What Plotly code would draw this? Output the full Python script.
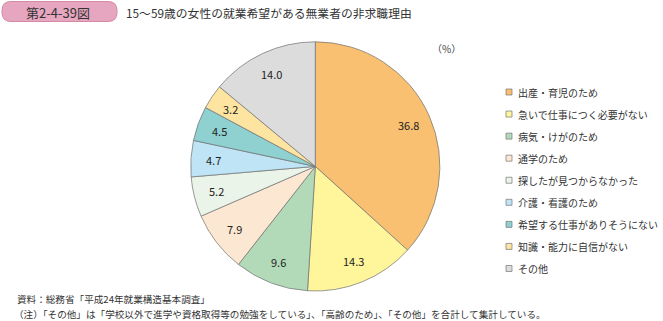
import math
import plotly.graph_objects as go

labels = ["出産・育児のため", "急いで仕事につく必要がない", "病気・けがのため", "通学のため",
          "探したが見つからなかった", "介護・看護のため", "希望する仕事がありそうにない",
          "知識・能力に自信がない", "その他"]
values = [36.8, 14.3, 9.6, 7.9, 5.2, 4.7, 4.5, 3.2, 14.0]
colors = ["#F8C070", "#FFF59B", "#B3DAB8", "#FCE8D2", "#EBF4E9", "#BEE4F6", "#8FD0D0", "#FDE4A0", "#DCDCDC"]

title_tag = "第2-4-39図"
title_text = "15～59歳の女性の就業希望がある無業者の非求職理由"
unit_text = "（%）"
source_text = "資料：総務省「平成24年就業構造基本調査」"
note_text = "（注）「その他」は「学校以外で進学や資格取得等の勉強をしている」、「高齢のため」、「その他」を合計して集計している。"

FONT = "Noto Sans CJK JP"
W, H = 663, 321

# pie geometry (pixels)
cx, cy, R = 315.3, 166.4, 124.6
px = lambda x: x / W
py = lambda y: 1 - y / H

fig = go.Figure()
fig.add_trace(go.Pie(
    labels=labels, values=values, sort=False, direction="clockwise", rotation=0,
    marker=dict(colors=colors, line=dict(color="#707070", width=0.7)),
    textinfo="none",
    domain=dict(x=[px(cx - R), px(cx + R)], y=[py(cy + R), py(cy - R)]),
    hoverinfo="label+value", showlegend=False,
))

annotations = []
shapes = []

# slice value labels at mid-angle of each slice
total = sum(values)
cum = 0.0
LABEL_FRAC = 0.82
for v in values:
    mid = (cum + v / 2) / total * 2 * math.pi
    cum += v
    lx = cx + LABEL_FRAC * R * math.sin(mid)
    ly = cy - LABEL_FRAC * R * math.cos(mid)
    annotations.append(dict(text=f"{v:.1f}", x=px(lx), y=py(ly), xref="paper", yref="paper",
                            showarrow=False, xanchor="center", yanchor="middle",
                            font=dict(family=FONT, size=11, color="#222")))

# legend
LEG_X, LEG_Y0, LEG_DY = 509, 92, 22.06
for i, (lab, col) in enumerate(zip(labels, colors)):
    y = LEG_Y0 + i * LEG_DY
    shapes.append(dict(type="rect", xref="paper", yref="paper",
                       x0=px(LEG_X - 3), x1=px(LEG_X + 3), y0=py(y + 3), y1=py(y - 3),
                       fillcolor=col, line=dict(color="#777", width=0.7)))
    annotations.append(dict(text=lab, x=px(LEG_X + 7), y=py(y), xref="paper", yref="paper",
                            showarrow=False, xanchor="left", yanchor="middle",
                            font=dict(family=FONT, size=10, color="#333")))

# title tag box
x0, x1, y0, y1, r = 2, 117, 1.5, 21.5, 9
shapes.append(dict(type="path", xref="paper", yref="paper",
                   path=(f"M {px(x0+r)},{py(y0)} L {px(x1-r)},{py(y0)} "
                         f"Q {px(x1)},{py(y0)} {px(x1)},{py(y0+r)} L {px(x1)},{py(y1-r)} "
                         f"Q {px(x1)},{py(y1)} {px(x1-r)},{py(y1)} L {px(x0+r)},{py(y1)} "
                         f"Q {px(x0)},{py(y1)} {px(x0)},{py(y1-r)} L {px(x0)},{py(y0+r)} "
                         f"Q {px(x0)},{py(y0)} {px(x0+r)},{py(y0)} Z"),
                   fillcolor="#E6A6BF", line=dict(color="#D48AA3", width=1)))

annotations += [
    dict(text=title_tag, x=px(58), y=py(12), xref="paper", yref="paper",
         showarrow=False, xanchor="center", yanchor="middle",
         font=dict(family=FONT, size=13, color="#333")),
    dict(text=title_text, x=px(124), y=py(12), xref="paper", yref="paper",
         showarrow=False, xanchor="left", yanchor="middle",
         font=dict(family=FONT, size=11.8, color="#333")),
    dict(text=unit_text, x=px(446), y=py(48), xref="paper", yref="paper",
         showarrow=False, xanchor="center", yanchor="middle",
         font=dict(family=FONT, size=10, color="#444")),
    dict(text=source_text, x=px(16), y=py(299), xref="paper", yref="paper",
         showarrow=False, xanchor="left", yanchor="middle", borderpad=0,
         font=dict(family=FONT, size=9.6, color="#333")),
    dict(text=note_text, x=px(13), y=py(313.8), xref="paper", yref="paper",
         showarrow=False, xanchor="left", yanchor="middle", borderpad=0,
         font=dict(family=FONT, size=9.6, color="#333")),
]

fig.update_layout(
    width=W, height=H,
    margin=dict(l=0, r=0, t=0, b=0, autoexpand=False),
    paper_bgcolor="white", plot_bgcolor="white",
    font=dict(family=FONT, color="#333"),
    showlegend=False,
    shapes=shapes,
    annotations=annotations,
)

fig.write_html("out.html")
